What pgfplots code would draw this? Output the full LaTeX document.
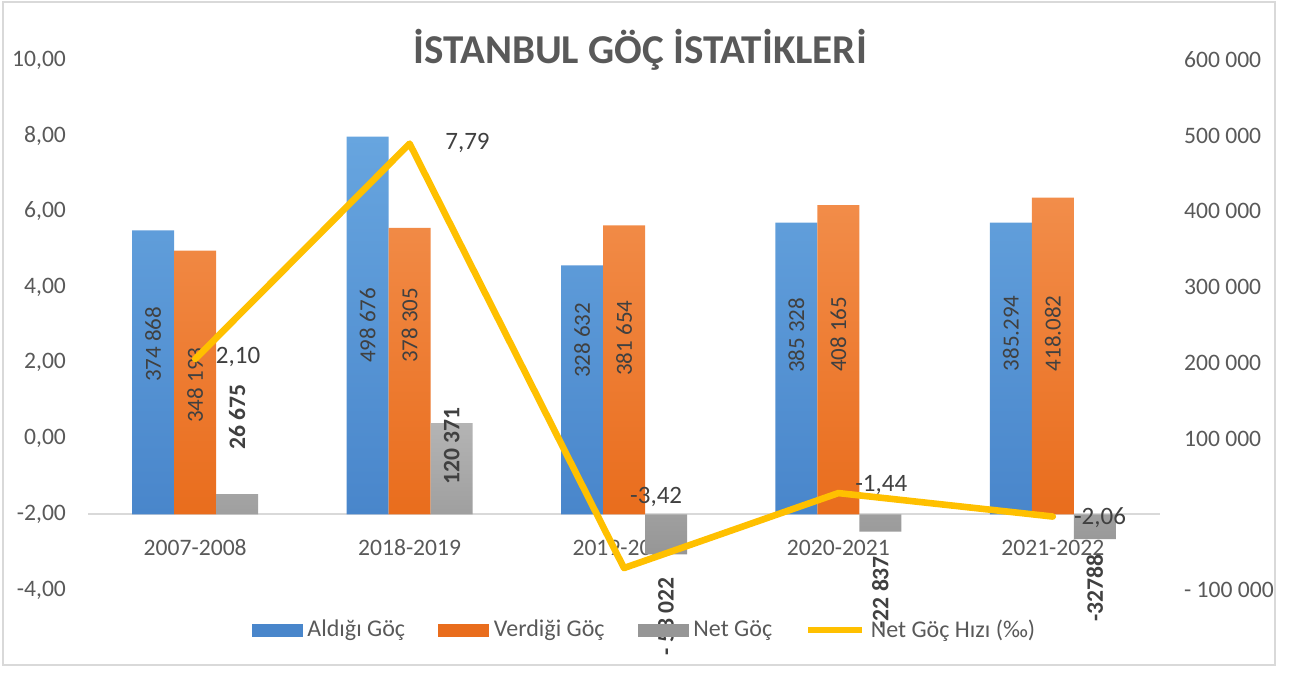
\documentclass[border=0pt]{standalone}
\usepackage{fontspec}
\setmainfont{Carlito}
\usepackage{pgfplots}
\usepackage{pgfplotstable}
\pgfplotsset{compat=1.18}

\definecolor{bluetop}{HTML}{67A5DF}
\definecolor{bluebot}{HTML}{4986CB}
\definecolor{orgtop}{HTML}{F28D4A}
\definecolor{orgbot}{HTML}{E96D1D}
\definecolor{graytop}{HTML}{B4B4B4}
\definecolor{graybot}{HTML}{969696}
\definecolor{goldline}{HTML}{FFC000}
\definecolor{txtgray}{HTML}{595959}
\definecolor{lblgray}{HTML}{404040}
\definecolor{rulegray}{HTML}{D9D9D9}

% bar values; *y columns = where the value labels sit
\pgfplotstableread[col sep=semicolon,row sep=\\]{%
x;ald;ver;net;aldy;very;nety;aldl;verl;netl\\%
0;374868;348193;26675;224500;170400;128100;374 868;348 193;26 675\\%
1;498676;378305;120371;249600;249600;89800;498 676;378 305;120 371\\%
2;328632;381654;-53022;229800;232500;-134700;328 632;381 654;- 53 022\\%
3;385328;408165;-22837;236400;237700;-103000;385 328;408 165;-22 837\\%
4;385294;418082;-32788;239100;239100;-97700;385.294;418.082;-32788\\%
}\goc

% net migration rate (per mille) and its label positions
\pgfplotstableread[col sep=semicolon,row sep=\\]{%
x;r;lx;ly;rl\\%
0;2.10;0.20;2.16;2,10\\%
1;7.79;1.27;7.81;7,79\\%
2;-3.42;2.15;-1.54;-3,42\\%
3;-1.44;3.20;-1.23;-1,44\\%
4;-2.06;4.22;-2.10;-2,06\\%
}\hiz

\pgfplotsset{
  common/.style={
    at={(44pt,41.5pt)}, anchor=south west, scale only axis,
    width=536pt, height=265pt, xmin=-0.5, xmax=4.5,
    axis line style={draw=none}, clip=false, tick style={draw=none},
    scaled y ticks=false,
    tick label style={font=\fontsize{11.8}{14}\selectfont, text=txtgray},
  },
  barlabel/.style={only marks, mark=none, nodes near coords, point meta=explicit symbolic,
    nodes near coords style={xshift=#1, rotate=90, anchor=center,
      font=\fontsize{11.5}{13}\selectfont, text=lblgray}},
}

\begin{document}
\begin{tikzpicture}
\useasboundingbox (0,0) rectangle (646.5pt,336.5pt);
\draw[rulegray, line width=1pt] (1.5pt,4pt) rectangle (637.5pt,335.5pt);
\node[font=\fontsize{20.5}{24}\selectfont\bfseries, text=txtgray] at (320pt,311.5pt) {İSTANBUL GÖÇ İSTATİKLERİ};

\begin{axis}[common,
  ymin=-100000, ymax=600000,
  xtick={0,...,4}, xticklabels={2007-2008,2018-2019,2019-2020,2020-2021,2021-2022},
  xticklabel style={anchor=center, yshift=21pt},
  ytick={-100000,100000,200000,300000,400000,500000,600000},
  yticklabels={- 100 000,100 000,200 000,300 000,400 000,500 000,600 000},
  yticklabel pos=right, yticklabel style={anchor=west, xshift=8.5pt},
  extra y ticks={0}, extra y tick labels={},
  extra y tick style={grid=major, major grid style={draw=rulegray, line width=1pt}},
]
\addplot[ybar, bar width=21pt, bar shift=-21pt, draw=none, top color=bluetop, bottom color=bluebot]
  table[x=x, y=ald]{\goc};
\addplot[ybar, bar width=21pt, bar shift=0pt, draw=none, top color=orgtop, bottom color=orgbot]
  table[x=x, y=ver]{\goc};
\addplot[ybar, bar width=21pt, bar shift=21pt, draw=none, top color=graytop, bottom color=graybot]
  table[x=x, y=net]{\goc};
\addplot[barlabel=-21pt] table[x=x, y=aldy, meta=aldl]{\goc};
\addplot[barlabel=0pt] table[x=x, y=very, meta=verl]{\goc};
\addplot[barlabel=21pt, nodes near coords style={font=\fontsize{11.8}{14}\selectfont\bfseries}]
  table[x=x, y=nety, meta=netl]{\goc};
\end{axis}

\begin{axis}[common,
  ymin=-4, ymax=10, xtick=\empty,
  ytick={-4,-2,...,10},
  yticklabels={{-4,00},{-2,00},{0,00},{2,00},{4,00},{6,00},{8,00},{10,00}},
  yticklabel pos=left, yticklabel style={anchor=east, xshift=-7.5pt},
  legend style={at={(0.5205,-0.0755)}, anchor=center, draw=none, fill=none,
    legend columns=4, font=\fontsize{12}{14}\selectfont,
    nodes={text=txtgray, inner sep=2.5pt},
    /tikz/every even column/.append style={column sep=14pt}},
]
\addplot[goldline, line width=3.3pt, line join=round, line cap=round, forget plot]
  table[x=x, y=r]{\hiz};
\addplot[only marks, mark=none, forget plot, nodes near coords, point meta=explicit symbolic,
  nodes near coords style={anchor=center, font=\fontsize{12.5}{14}\selectfont, text=lblgray}]
  table[x=lx, y=ly, meta=rl]{\hiz};
\addlegendimage{legend image code/.code={\fill[bluebot] (0pt,-3pt) rectangle (25pt,3pt);}}
\addlegendimage{legend image code/.code={\fill[orgbot] (0pt,-3pt) rectangle (25pt,3pt);}}
\addlegendimage{legend image code/.code={\fill[graybot] (0pt,-3pt) rectangle (25pt,3pt);}}
\addlegendimage{legend image code/.code={\draw[goldline, line width=3.3pt] (0pt,0pt) -- (27pt,0pt);}}
\legend{Aldığı Göç, Verdiği Göç, Net Göç, Net Göç Hızı (‰)}
\end{axis}
\end{tikzpicture}
\end{document}
